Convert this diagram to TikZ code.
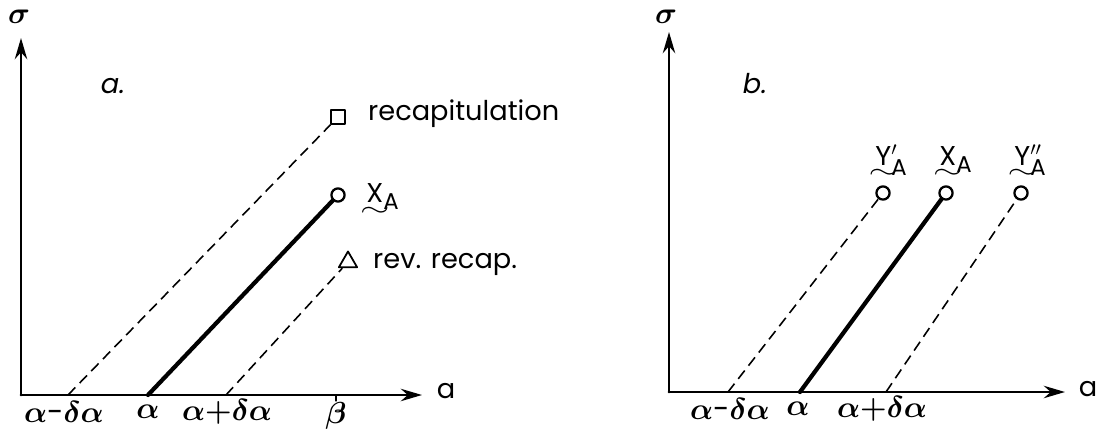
\documentclass[tikz,border=0pt]{standalone}
\usepackage{amsmath}
\usepackage{graphicx}
\usepackage{fontspec}
\setmainfont{Poppins}
\usetikzlibrary{arrows.meta,shapes.geometric}
\newcommand{\wig}[1]{\ensuremath{\underset{\makebox[0pt]{\raisebox{2pt}{\scalebox{1.5}[1]{$\sim$}}}}{\text{#1}}}}
\newcommand{\sa}{\text{\fontsize{13}{14}\selectfont A}}

\begin{document}
\begin{tikzpicture}[x=0.02cm, y=-0.02cm, line cap=round, line join=round, font=\fontsize{15.5}{17}\selectfont, >={Stealth[length=12pt,width=7pt]}]
	\tikzset{axis/.style={line width=1.7pt},
		guide/.style={line width=0.9pt, dash pattern=on 6pt off 3.5pt, line cap=butt},
		main/.style={line width=2.4pt},
		greek/.style={inner sep=1pt, font=\fontsize{17}{18}\selectfont\boldmath},
		dot/.style={circle, draw, line width=1.3pt, inner sep=0pt, minimum size=7.5pt},
		sqr/.style={rectangle, draw, line width=1.1pt, inner sep=0pt, minimum size=7.5pt},
		tri/.style={regular polygon, regular polygon sides=3, draw, line width=1pt, inner sep=0pt, minimum size=12pt}}
	\useasboundingbox (0,0) rectangle (1103,429);
	% panel a
	\coordinate (Oa) at (21,395);
	\coordinate (ya) at (21,38);
	\coordinate (xa) at (422,395);
	\draw[axis,->] (Oa) -- (ya);
	\draw[axis,->] (Oa) -- (xa);
	\node[greek] (siga) at (19,17) {$\sigma$};
	\node (aa) at (446,391) {a};
	\node (pa) at (113,86) {\itshape a.};
	\coordinate (am) at (68,395);
	\coordinate (a0) at (148,395);
	\coordinate (ap) at (226,395);
	\coordinate (be) at (336,395);
	\draw[line width=0.6pt] (be) -- ++(0,6);
	\node[greek] (lam) at (64,412) {$\alpha$-$\delta\alpha$};
	\node[greek] (la0) at (148,412) {$\alpha$};
	\node[greek] (lap) at (227,412) {$\alpha{+}\delta\alpha$};
	\node[greek] (lbe) at (336,416) {$\beta$};
	\node[sqr] (rec) at (338,117) {};
	\node[dot] (xA) at (338,195) {};
	\node[tri] (rev) at (348,262) {};
	\draw[guide] (am) -- (rec);
	\draw[main] (a0) -- (xA);
	\draw[guide] (ap) -- (rev);
	\node[anchor=west] (lrec) at (362,114) {recapitulation};
	\node[anchor=west, inner sep=0pt] (lxA) at (366,203) {\wig{X}$_{\sa}$};
	\node[anchor=west] (lrev) at (367,264) {rev. recap.};
	% panel b
	\coordinate (Ob) at (669,392);
	\coordinate (yb) at (669,32);
	\coordinate (xb) at (1065,392);
	\draw[axis,->] (Ob) -- (yb);
	\draw[axis,->] (Ob) -- (xb);
	\node[greek] (sigb) at (666,17) {$\sigma$};
	\node (ab) at (1088,389) {a};
	\node (pb) at (755,84) {\itshape b.};
	\coordinate (bm) at (728,392);
	\coordinate (b0) at (800,392);
	\coordinate (bp) at (886,392);
	\node[greek] (lbm) at (730,409) {$\alpha$-$\delta\alpha$};
	\node[greek] (lb0) at (798,409) {$\alpha$};
	\node[greek] (lbp) at (882,409) {$\alpha{+}\delta\alpha$};
	\node[dot] (y1) at (883,193) {};
	\node[dot] (x0) at (946,193) {};
	\node[dot] (y2) at (1021,193) {};
	\draw[guide] (bm) -- (y1);
	\draw[main] (b0) -- (x0);
	\draw[guide] (bp) -- (y2);
	\node[anchor=south west, inner sep=0pt] (ly1) at (875,185) {\wig{Y}$^{\prime}_{\sa}$};
	\node[anchor=south west, inner sep=0pt] (lx0) at (939,185) {\wig{X}$_{\sa}$};
	\node[anchor=south west, inner sep=0pt] (ly2) at (1014,185) {\wig{Y}$^{\prime\prime}_{\sa}$};
\end{tikzpicture}
\end{document}
